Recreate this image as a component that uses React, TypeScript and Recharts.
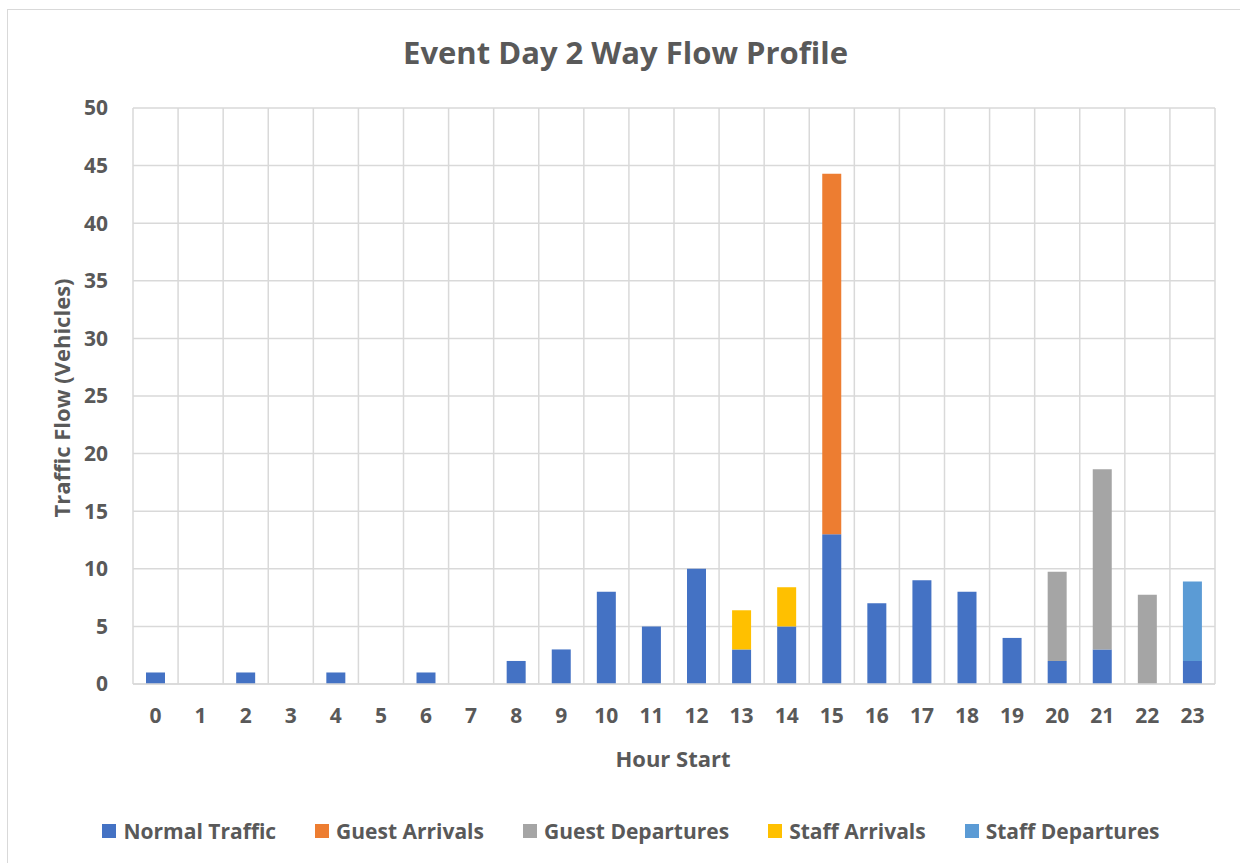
import React from "react";
import { BarChart, Bar, XAxis, YAxis, CartesianGrid } from "recharts";

const hours = ["0","1","2","3","4","5","6","7","8","9","10","11","12","13","14","15","16","17","18","19","20","21","22","23"];
const normalTraffic = [1,0,1,0,1,0,1,0,2,3,8,5,10,3,5,13,7,9,8,4,2,3,0,2];
const guestArrivals = [0,0,0,0,0,0,0,0,0,0,0,0,0,0,0,31.3,0,0,0,0,0,0,0,0];
const guestDepartures = [0,0,0,0,0,0,0,0,0,0,0,0,0,0,0,0,0,0,0,0,7.75,15.65,7.75,0];
const staffArrivals = [0,0,0,0,0,0,0,0,0,0,0,0,0,3.4,3.4,0,0,0,0,0,0,0,0,0];
const staffDepartures = [0,0,0,0,0,0,0,0,0,0,0,0,0,0,0,0,0,0,0,0,0,0,0,6.9];
const yTicks = [0,5,10,15,20,25,30,35,40,45,50];
const gridTicks = [0,1,2,3,4,5,6,7,8,9,10,11,12,13,14,15,16,17,18,19,20,21,22,23,24];

const series = [
  { key: "normal", name: "Normal Traffic", color: "#4472C4", values: normalTraffic },
  { key: "guestArr", name: "Guest Arrivals", color: "#ED7D31", values: guestArrivals },
  { key: "guestDep", name: "Guest Departures", color: "#A5A5A5", values: guestDepartures },
  { key: "staffArr", name: "Staff Arrivals", color: "#FFC000", values: staffArrivals },
  { key: "staffDep", name: "Staff Departures", color: "#5B9BD5", values: staffDepartures },
];

const data = hours.map((h, i) => {
  const row: any = { hour: h, idx: i + 0.5 };
  series.forEach((s) => { row[s.key] = s.values[i]; });
  return row;
});

const FONT = "'Open Sans', sans-serif";
const TXT = "#595959";

export default function App() {
  return (
    <div style={{ position: "absolute", left: 0, top: 0, width: 1240, height: 863, background: "#fff", overflow: "hidden" }}>
      <div style={{ position: "absolute", left: 7, top: 9, width: 1240, height: 870, border: "1.5px solid #d9d9d9", boxSizing: "border-box" }} />
      <div style={{ position: "absolute", left: 0, width: 1251, top: 31, textAlign: "center", fontFamily: FONT, fontWeight: 700, fontSize: 31, lineHeight: "42px", color: TXT }}>
        Event Day 2 Way Flow Profile
      </div>
      <div style={{ position: "absolute", left: 133, width: 1080, top: 742, textAlign: "center", fontFamily: FONT, fontWeight: 700, fontSize: 22, lineHeight: "32px", color: TXT }}>
        Hour Start
      </div>
      <div style={{ position: "absolute", left: 61, top: 398, width: 0, height: 0 }}>
        <div style={{ position: "absolute", left: -200, top: -16, width: 400, lineHeight: "32px", textAlign: "center", transform: "rotate(-90deg)", fontFamily: FONT, fontWeight: 700, fontSize: 22, color: TXT, whiteSpace: "nowrap" }}>
          Traffic Flow (Vehicles)
        </div>
      </div>
      <div style={{ position: "absolute", left: 0, top: 0 }}>
        <BarChart width={1240} height={863} data={data} margin={{ top: 108, right: 25, bottom: 149, left: 0 }} barSize={19}>
          <XAxis xAxisId="grid" type="number" dataKey="idx" domain={[0, 24]} ticks={gridTicks} hide height={0} allowDataOverflow />
          <CartesianGrid xAxisId="grid" stroke="#d9d9d9" strokeWidth={1.5} />
          <XAxis xAxisId="cat" dataKey="hour" height={30} axisLine={{ stroke: "#d9d9d9", strokeWidth: 1.5 }} tickLine={false} tickSize={0} tickMargin={24}
            tick={{ fill: TXT, fontFamily: FONT, fontWeight: 700, fontSize: 21 }} interval={0} />
          <YAxis domain={[0, 50]} ticks={yTicks} width={133} axisLine={false} tickLine={false} tickSize={0} tickMargin={25}
            tick={{ fill: TXT, fontFamily: FONT, fontWeight: 700, fontSize: 21 }} />
          {series.map((s) => (
            <Bar key={s.key} xAxisId="cat" dataKey={s.key} name={s.name} stackId="a" fill={s.color} isAnimationActive={false} />
          ))}
        </BarChart>
      </div>
      <div style={{ position: "absolute", left: 0, width: 1262, top: 815, display: "flex", justifyContent: "center", gap: 39, fontFamily: FONT, fontWeight: 700, fontSize: 21, lineHeight: "32px", color: TXT }}>
        {series.map((s) => (
          <div key={s.key} style={{ display: "flex", alignItems: "center" }}>
            <span style={{ display: "inline-block", width: 14, height: 14, background: s.color, marginRight: 7 }} />
            <span>{s.name}</span>
          </div>
        ))}
      </div>
    </div>
  );
}
